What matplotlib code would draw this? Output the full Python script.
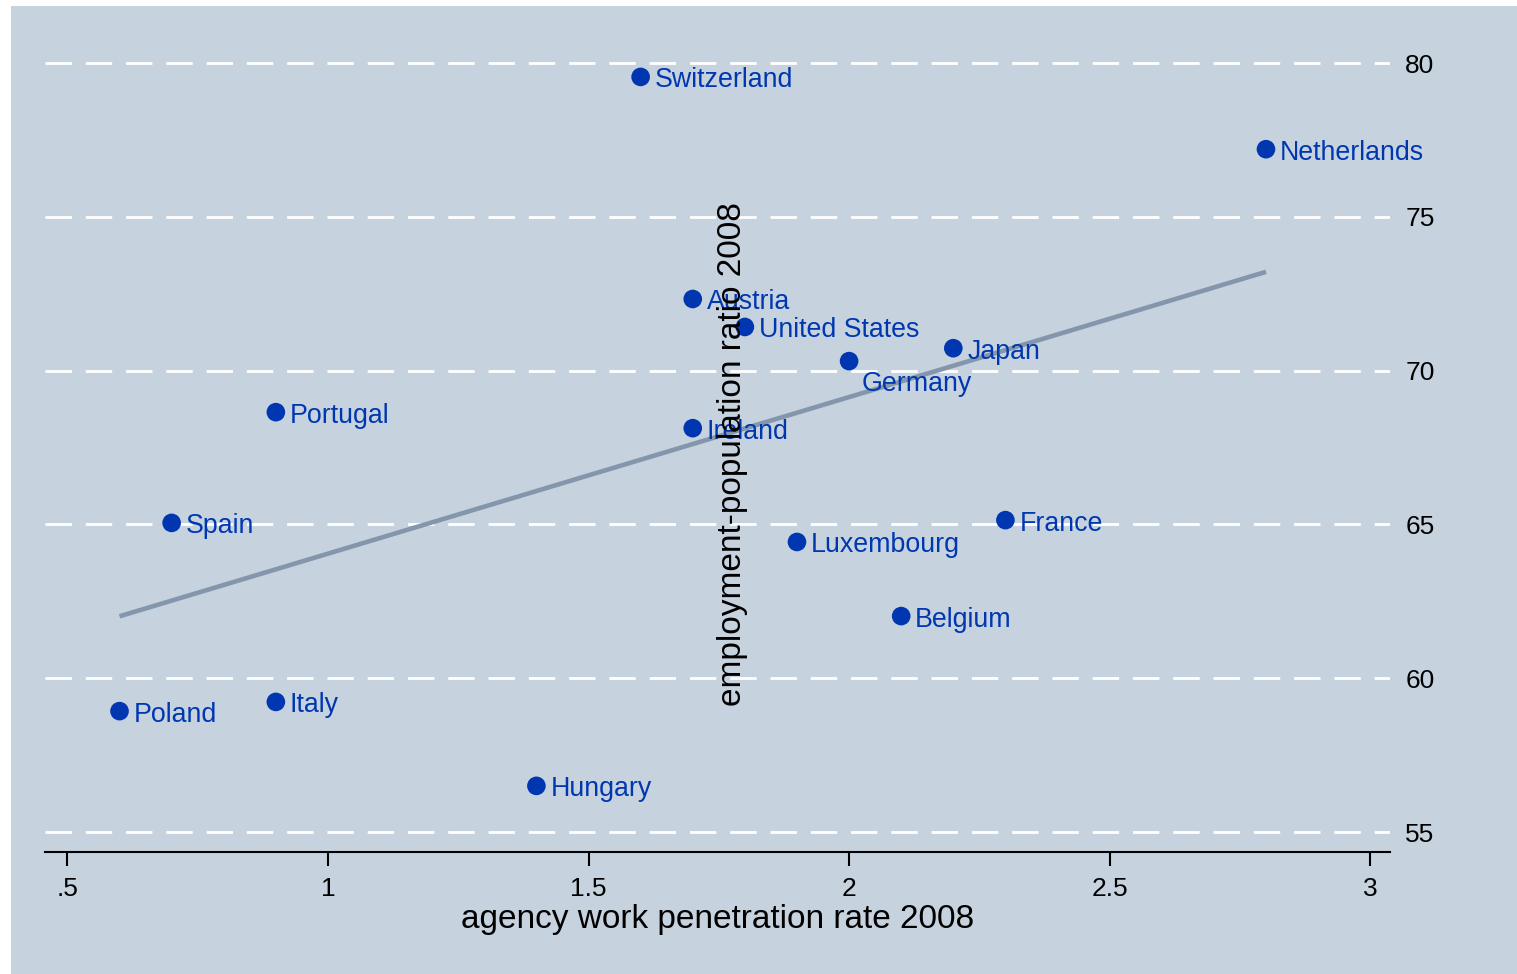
import numpy as np
import matplotlib
matplotlib.use('Agg')
import matplotlib.pyplot as plt
from matplotlib.patches import Rectangle

plt.rcParams['font.family'] = ['Liberation Sans', 'DejaVu Sans']

# agency work penetration vs employment-population ratio, 2008
countries = ['Switzerland', 'Netherlands', 'Austria', 'United States', 'Germany',
             'Japan', 'Portugal', 'Ireland', 'Spain', 'France', 'Luxembourg',
             'Belgium', 'Poland', 'Italy', 'Hungary']
agency = [1.6, 2.8, 1.7, 1.8, 2.0, 2.2, 0.9, 1.7, 0.7, 2.3, 1.9, 2.1, 0.6, 0.9, 1.4]
emp = [79.55, 77.2, 72.33, 71.42, 70.31, 70.73, 68.65, 68.13, 65.05, 65.14, 64.43,
       62.02, 58.93, 59.23, 56.5]

xticks = [0.5, 1, 1.5, 2, 2.5, 3]
xticklabels = ['.5', '1', '1.5', '2', '2.5', '3']
yticks = [55, 60, 65, 70, 75, 80]

bg = '#c6d3df'
dot = '#0037b1'

fig = plt.figure(figsize=(15.17, 9.74), dpi=100)
fig.patch.set_facecolor('white')
fig.patches.append(Rectangle((11 / 1517, 0), 1, 968 / 974, transform=fig.transFigure,
                             facecolor=bg, edgecolor='none', zorder=-10))

ax = fig.add_axes([45 / 1517, 122 / 974, 1345 / 1517, 796 / 974])
ax.set_facecolor(bg)

x = np.array(agency)
y = np.array(emp)

# grid
for yt in yticks:
    ax.axhline(yt, color='white', lw=2, dashes=(9.5, 5), zorder=1)

# fitted line
b, a = np.polyfit(x, y, 1)
xs = np.array([x.min(), x.max()])
ax.plot(xs, a + b * xs, color='#8396ab', lw=3.3, zorder=2, solid_capstyle='butt')

ax.scatter(x, y, s=180, color=dot, zorder=3, edgecolors='none')
for c, xi, yi in zip(countries, x, y):
    if c == 'Germany':
        ax.annotate(c, (xi, yi), xytext=(9, -16.5), textcoords='offset points',
                    ha='left', va='center', fontsize=19.3, color=dot, zorder=4)
    else:
        ax.annotate(c, (xi, yi), xytext=(10, -2.5), textcoords='offset points',
                    ha='left', va='center', fontsize=19.3, color=dot, zorder=4)

ax.set_xlim(0.457, 3.038)
ax.set_ylim(54.35, 80.23)
ax.set_xticks(xticks)
ax.set_xticklabels(xticklabels)
ax.set_yticks(yticks)
ax.yaxis.tick_right()
ax.tick_params(axis='y', length=0, pad=11, labelsize=19)
ax.tick_params(axis='x', length=10, width=1.5, pad=8, labelsize=19)

for s in ['top', 'left', 'right']:
    ax.spines[s].set_visible(False)
ax.spines['bottom'].set_linewidth(1.5)

ax.set_xlabel('agency work penetration rate 2008', fontsize=24, labelpad=2)
ax.text(0.5115, 0.5, 'employment-population ratio 2008', transform=ax.transAxes,
        rotation=90, ha='center', va='center', fontsize=24, zorder=5)

plt.savefig('out.png', dpi=100)
